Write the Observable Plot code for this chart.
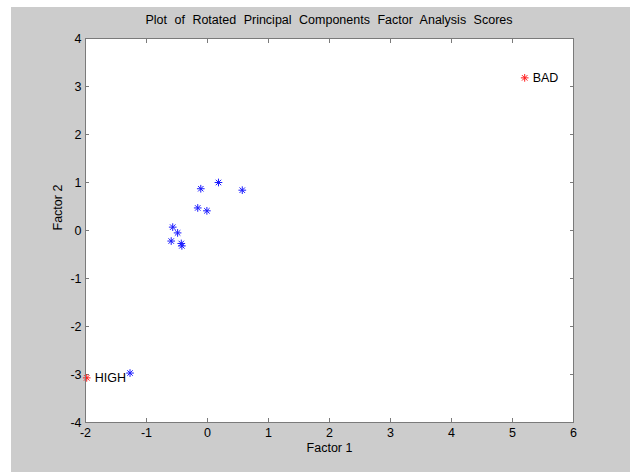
<!DOCTYPE html>
<html><head><meta charset="utf-8">
<script src="https://cdn.jsdelivr.net/npm/d3@7"></script>
<script src="https://cdn.jsdelivr.net/npm/@observablehq/plot@0.6"></script>
<style>
html,body{margin:0;padding:0;background:#fff;}
#wrap{position:relative;width:630px;height:473px;overflow:hidden;}
#bg{position:absolute;left:11px;top:7px;width:619px;height:465px;background:#cccccc;}
#title{position:absolute;left:85px;width:488px;top:13px;text-align:center;font:12.5px "Liberation Sans",Arial,sans-serif;color:#000;white-space:nowrap;word-spacing:4px;}
#chart{position:absolute;left:0;top:0;}
</style></head><body>
<div id="wrap"><div id="bg"></div><div id="title">Plot of Rotated Principal Components Factor Analysis Scores</div><div id="chart"></div></div>
<script>
const factor1 = [5.20, -1.98, -1.27, -0.11, 0.18, 0.57, -0.16, -0.01, -0.57, -0.49, -0.595, -0.43, -0.42];
const factor2 = [3.18, -3.07, -2.97, 0.87, 1.00, 0.84, 0.47, 0.41, 0.07, -0.05, -0.22, -0.27, -0.32];
const pointLabels = ["BAD", "HIGH", "", "", "", "", "", "", "", "", "", "", ""];
const pointGroup = ["extreme", "extreme", "normal", "normal", "normal", "normal", "normal", "normal", "normal", "normal", "normal", "normal", "normal"];
const xTicks = [-2, -1, 0, 1, 2, 3, 4, 5, 6];
const yTicks = [-4, -3, -2, -1, 0, 1, 2, 3, 4];
const groupNames = ["normal", "extreme"];
const groupColors = ["#1a1aff", "#ff1a1a"];

const data = factor1.map((x, i) => ({x, y: factor2[i], label: pointLabels[i], group: pointGroup[i]}));
const fmt = d => String(d);
const axisColor = "#7a7a7a";

const chart = Plot.plot({
  width: 630, height: 473,
  marginLeft: 85, marginRight: 57, marginTop: 38, marginBottom: 51,
  style: {background: "transparent", fontFamily: "'Liberation Sans', Arial, sans-serif", fontSize: "12.5px", color: "#000"},
  x: {domain: [-2, 6]},
  y: {domain: [-4, 4]},
  color: {domain: groupNames, range: groupColors},
  marks: [
    Plot.frame({fill: "white", stroke: "none"}),
    Plot.axisX({anchor: "bottom", ticks: xTicks, tickSize: 0, tickPadding: 6, tickFormat: fmt, label: null, fill: "#000"}),
    Plot.axisY({anchor: "left", ticks: yTicks, tickSize: 0, tickPadding: 4, tickFormat: fmt, label: null, fill: "#000"}),
    Plot.axisX({anchor: "bottom", ticks: xTicks, tickSize: -4, fill: "none", label: null, stroke: axisColor}),
    Plot.axisX({anchor: "top", ticks: xTicks, tickSize: -4, fill: "none", label: null, stroke: axisColor}),
    Plot.axisY({anchor: "left", ticks: yTicks, tickSize: -4, fill: "none", label: null, stroke: axisColor}),
    Plot.axisY({anchor: "right", ticks: yTicks, tickSize: -4, fill: "none", label: null, stroke: axisColor}),
    Plot.text(["Factor 1"], {frameAnchor: "bottom", dy: 29, fill: "#000"}),
    Plot.text(["Factor 2"], {frameAnchor: "left", dx: -28, rotate: -90, fill: "#000"}),
    Plot.dot(data, {x: "x", y: "y", symbol: "plus", r: 2.6, stroke: "group", strokeWidth: 1}),
    Plot.dot(data, {x: "x", y: "y", symbol: "times", r: 2.6, stroke: "group", strokeWidth: 1}),
    Plot.text(data.filter(d => d.label), {x: "x", y: "y", text: "label", dx: 8, textAnchor: "start", fill: "#000"}),
    Plot.frame({stroke: axisColor})
  ]
});
document.getElementById("chart").appendChild(chart);
</script>
</body></html>
